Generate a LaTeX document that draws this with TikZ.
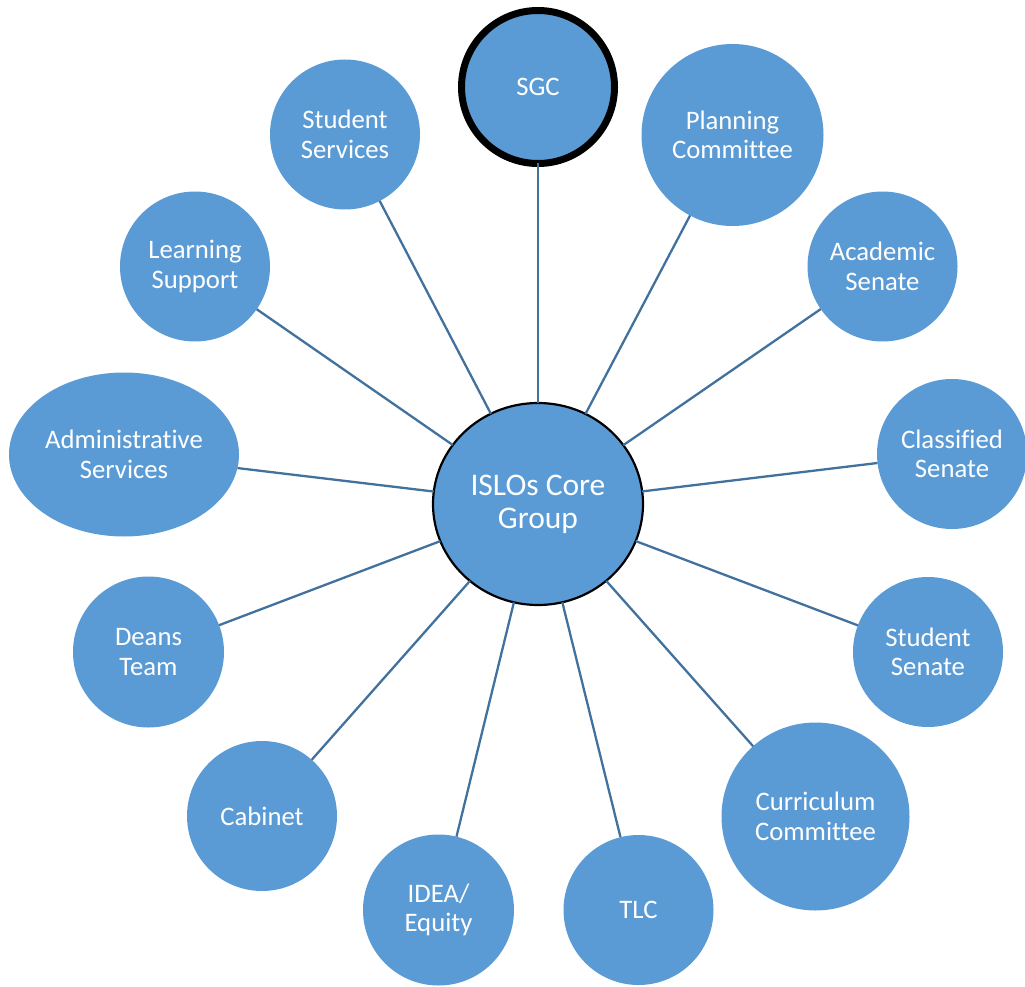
\documentclass[tikz,border=0pt]{standalone}
\usepackage{fontspec}
\setmainfont[Ligatures={NoCommon}]{Carlito}
\usetikzlibrary{shapes.geometric}
\definecolor{bubble}{HTML}{5B9BD5}
\definecolor{link}{HTML}{41719C}
\tikzset{
  bub/.style={circle, fill=bubble, draw=none, inner sep=0pt, outer sep=0pt, text=white, align=center,
    font=\fontsize{26.7}{29.5}\selectfont},
  conn/.style={draw=link, line width=2.3pt},
}
\begin{document}
\begin{tikzpicture}[x=1pt,y=-1pt]
\useasboundingbox (0,0) rectangle (1025,987);
\node[ellipse, fill=bubble, draw=black, line width=2.2pt, minimum width=210pt, minimum height=202pt, inner sep=0pt, outer sep=0pt, text=white, align=center, font=\fontsize{31.5}{33}\selectfont] (core) at (538,504) {ISLOs Core\\Group};
\node[bub, draw=black, line width=7pt, minimum size=153pt] (sgc) at (538,87) {SGC};
\node[bub, minimum size=150pt] (ss) at (345,134.5) {Student\\Services};
\node[bub, minimum size=182pt] (pc) at (732.5,135) {Planning\\Committee};
\node[bub, minimum size=150pt] (ls) at (195,266.5) {Learning\\Support};
\node[bub, minimum size=150pt] (as) at (882.5,266.5) {Academic\\Senate};
\node[bub, ellipse, minimum width=230pt, minimum height=164pt] (adm) at (124,454.5) {Administrative\\Services};
\node[bub, minimum size=150pt] (cs) at (952,454) {Classified\\Senate};
\node[bub, minimum size=151pt] (dt) at (148.5,652) {Deans\\Team};
\node[bub, minimum size=150pt] (sts) at (928,652) {Student\\Senate};
\node[bub, minimum size=150pt] (cab) at (262,816) {Cabinet};
\node[bub, minimum size=188pt] (cc) at (815.5,816.5) {Curriculum\\Committee};
\node[bub, minimum size=151pt] (idea) at (438.5,910) {IDEA/\\Equity};
\node[bub, minimum size=150pt] (tlc) at (638.5,910) {TLC};
\foreach \n in {sgc,ss,pc,ls,as,adm,cs,dt,sts,cab,cc,idea,tlc}
  \draw[conn] (core) -- (\n);
\end{tikzpicture}
\end{document}
